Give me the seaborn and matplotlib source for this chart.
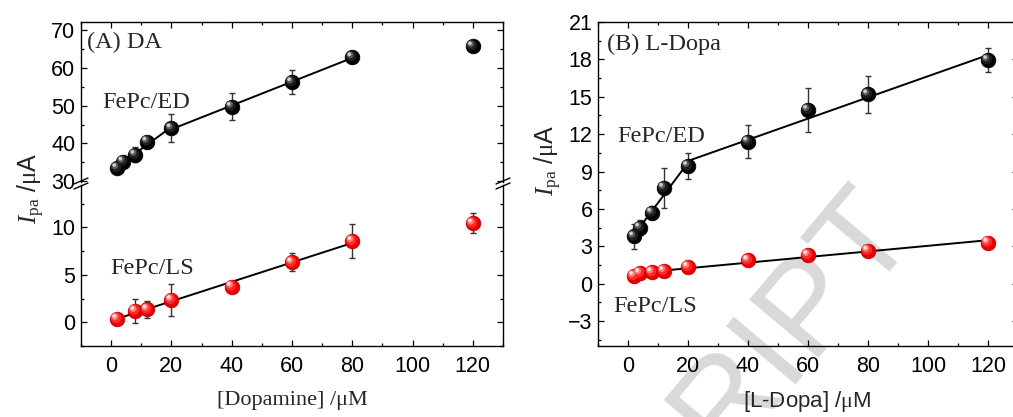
import numpy as np
import pandas as pd
import matplotlib
matplotlib.use("Agg")
import matplotlib.pyplot as plt
import seaborn as sns
from matplotlib.transforms import ScaledTranslation
from matplotlib.lines import Line2D
from matplotlib.ticker import MultipleLocator

# ---------------- data ----------------
da_x = [2, 4, 8, 12, 20, 40, 60, 80, 120]
da_ed = [33.5, 35.2, 37.0, 40.5, 44.0, 49.7, 56.2, 62.8, 65.7]
da_ed_err = [1.2, 0.8, 2.0, 0.8, 3.7, 3.6, 3.2, 1.5, 1.0]

da_ls_x = [2, 8, 12, 20, 40, 60, 80, 120]
da_ls = [0.35, 1.2, 1.35, 2.35, 3.75, 6.3, 8.55, 10.4]
da_ls_err = [0.2, 1.3, 0.85, 1.7, 0.3, 0.95, 1.75, 1.05]

ld_x = [2, 4, 8, 12, 20, 40, 60, 80, 120]
ld_ed = [3.8, 4.5, 5.7, 7.7, 9.45, 11.4, 13.95, 15.2, 17.95]
ld_ed_err = [1.0, 0.6, 0.5, 1.6, 1.05, 1.3, 1.75, 1.5, 1.0]
ld_ls = [0.62, 0.85, 0.92, 1.02, 1.34, 1.88, 2.3, 2.65, 3.3]
ld_ls_err = [0.2, 0.15, 0.1, 0.1, 0.2, 0.2, 0.15, 0.1, 0.1]

x_ticks = [0, 20, 40, 60, 80, 100, 120]

W, H = 1013, 417
sns.set_style("ticks")
plt.rcParams["font.family"] = ["Liberation Sans", "DejaVu Sans"]
plt.rcParams["mathtext.fontset"] = "custom"
plt.rcParams["mathtext.rm"] = "Liberation Serif"
plt.rcParams["mathtext.it"] = "Liberation Serif:italic"

fig = plt.figure(figsize=(W / 100, H / 100), dpi=100)
fig.patch.set_facecolor("white")


def rect(x0, y0, x1, y1):
    return [x0 / W, 1 - y1 / H, (x1 - x0) / W, (y1 - y0) / H]


def px(x, y):
    return (x / W, 1 - y / H)


SERIF = ["Liberation Serif", "DejaVu Serif"]
FS_IN = 17.5
FS_LAB = 16
FS_TICK = 15.5

# watermark
fig.text(*px(918, 232), "SCRIPT", rotation=50, rotation_mode="anchor",
         ha="right", va="baseline", fontsize=95, color="#d9d9d9",
         family=["Liberation Sans"], zorder=-5)

ax_top = fig.add_axes(rect(81, 22, 503, 182))
ax_bot = fig.add_axes(rect(81, 185, 503, 346))
ax_r = fig.add_axes(rect(598, 22, 1018, 346))

for ax in (ax_top, ax_bot, ax_r):
    ax.set_facecolor("none")
    for s in ax.spines.values():
        s.set_linewidth(1.0)
        s.set_color("black")
    ax.tick_params(which="both", direction="in", top=True, right=True,
                   labelsize=FS_TICK, width=0.9, colors="black")
    ax.tick_params(which="major", length=4.5)
    ax.tick_params(which="minor", length=2.5)
    ax.tick_params(axis="x", pad=7)
    ax.tick_params(axis="y", pad=4)
    ax.set_xlim(-10, 130)
    ax.xaxis.set_major_locator(MultipleLocator(20))
    ax.xaxis.set_minor_locator(MultipleLocator(10))

ax_top.spines["bottom"].set_visible(False)
ax_top.tick_params(which="both", bottom=False, labelbottom=False)
ax_bot.spines["top"].set_visible(False)
ax_bot.tick_params(which="both", top=False)

ax_top.set_ylim(29.8, 72.1)
ax_top.yaxis.set_major_locator(MultipleLocator(10))
ax_top.yaxis.set_minor_locator(MultipleLocator(5))
ax_bot.set_ylim(-2.5, 14.45)
ax_bot.yaxis.set_major_locator(MultipleLocator(5))
ax_bot.yaxis.set_minor_locator(MultipleLocator(2.5))
ax_bot.set_xticks(x_ticks)
ax_bot.set_xticklabels([str(t) for t in x_ticks])
ax_r.set_ylim(-5, 21)
ax_r.yaxis.set_major_locator(MultipleLocator(3))
ax_r.yaxis.set_minor_locator(MultipleLocator(1.5))
ax_r.set_xticks(x_ticks)
ax_r.set_xticklabels([str(t) for t in x_ticks])


def sphere(ax, x, y, kind):
    if kind == "k":
        layers = [("#000000", 110, 0.0), ("#1e1e1e", 58, 0.8),
                  ("#5a5a5a", 24, 1.6), ("#cfcfcf", 7, 2.1)]
        edge = "#000000"
    else:
        layers = [("#e80000", 110, 0.0), ("#ff2a2a", 58, 0.8),
                  ("#ff7a7a", 24, 1.6), ("#ffe4e4", 7, 2.1)]
        edge = "#c00000"
    df = pd.DataFrame({"x": x, "y": y})
    for i, (c, s, off) in enumerate(layers):
        sns.scatterplot(data=df, x="x", y="y", ax=ax, color=c, s=s,
                        edgecolor=edge if i == 0 else "none",
                        linewidth=0.6 if i == 0 else 0, zorder=4 + i,
                        legend=False, clip_on=False)
        coll = ax.collections[-1]
        if off:
            coll.set_offset_transform(
                ax.transData + ScaledTranslation(-off / 72, off / 72, fig.dpi_scale_trans))
    ax.set_xlabel("")
    ax.set_ylabel("")


def errs(ax, x, y, e):
    ax.errorbar(x, y, yerr=e, fmt="none", ecolor="#333333", elinewidth=1.0,
                capsize=2.5, capthick=1.0, zorder=2)


def fit(ax, x, y, lo, hi):
    xs = [a for a in x if lo <= a <= hi]
    ys = [b for a, b in zip(x, y) if lo <= a <= hi]
    sns.regplot(x=np.array(xs, float), y=np.array(ys, float), ax=ax,
                scatter=False, ci=None, truncate=True,
                line_kws=dict(color="black", lw=1.4, zorder=3))
    ax.set_xlabel("")
    ax.set_ylabel("")


# panel A
fit(ax_top, da_x, da_ed, 2, 20)
fit(ax_top, da_x, da_ed, 20, 80)
errs(ax_top, da_x, da_ed, da_ed_err)
sphere(ax_top, da_x, da_ed, "k")

fit(ax_bot, da_ls_x, da_ls, 2, 80)
errs(ax_bot, da_ls_x, da_ls, da_ls_err)
sphere(ax_bot, da_ls_x, da_ls, "r")

# panel B
fit(ax_r, ld_x, ld_ed, 2, 20)
fit(ax_r, ld_x, ld_ed, 20, 120)
errs(ax_r, ld_x, ld_ed, ld_ed_err)
sphere(ax_r, ld_x, ld_ed, "k")
fit(ax_r, ld_x, ld_ls, 2, 120)
errs(ax_r, ld_x, ld_ls, ld_ls_err)
sphere(ax_r, ld_x, ld_ls, "r")

ax_top.set_xlim(-10, 130)
ax_bot.set_xlim(-10, 130)
ax_r.set_xlim(-10, 130)
ax_top.set_ylim(29.8, 72.1)
ax_bot.set_ylim(-2.5, 14.45)
ax_r.set_ylim(-5, 21)

# break marks
for xc in (81, 503):
    for yc in (181, 186):
        fig.add_artist(Line2D([(xc - 7) / W, (xc + 7) / W],
                              [1 - (yc + 3) / H, 1 - (yc - 3) / H],
                              color="black", lw=1.0))

# texts
fig.text(*px(87, 42), "(A) DA", family=SERIF, fontsize=FS_IN, va="center", ha="left")
fig.text(*px(102, 103), "FePc/ED", family=SERIF, fontsize=FS_IN, va="center", ha="left")
fig.text(*px(110, 268), "FePc/LS", family=SERIF, fontsize=FS_IN, va="center", ha="left")
fig.text(*px(607, 44), "(B) L-Dopa", family=SERIF, fontsize=FS_IN, va="center", ha="left")
fig.text(*px(617, 137), "FePc/ED", family=SERIF, fontsize=FS_IN, va="center", ha="left")
fig.text(*px(613, 307), "FePc/LS", family=SERIF, fontsize=FS_IN, va="center", ha="left")

fig.text(*px(292, 400), "[Dopamine] /μM", family=SERIF, fontsize=FS_LAB, va="center", ha="center")
fig.text(*px(807, 401), r"[L-Dopa] /$\mathrm{\mu}$M", fontsize=FS_LAB, va="center", ha="center")

fig.text(*px(31, 188), r"$\mathit{I}_{\mathrm{pa}}$ /$\mathrm{\mu}$A", rotation=90, fontsize=18,
         va="center", ha="center")
fig.text(*px(548, 160), r"$\mathit{I}_{\mathrm{pa}}$ /$\mathrm{\mu}$A", rotation=90, fontsize=18,
         va="center", ha="center")

fig.savefig("out.png", dpi=100)
